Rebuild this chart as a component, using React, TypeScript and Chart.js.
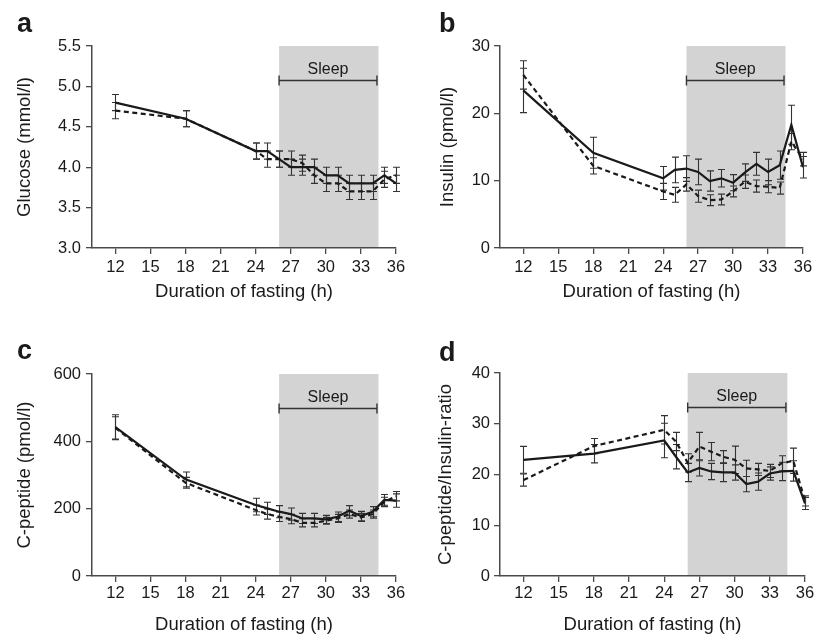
import React, { useEffect, useRef } from 'react';
import { Chart, registerables } from 'chart.js';

Chart.register(...registerables);
Chart.defaults.font.family = "'Liberation Sans', Arial, Helvetica, sans-serif";

// ---------- data ----------
const hours = [12, 18, 24, 25, 26, 27, 28, 29, 30, 31, 32, 33, 34, 35, 36];
const xTickValues = [12, 15, 18, 21, 24, 27, 30, 33, 36];
const sleepWindow = [26, 34.5];
const xTitle = 'Duration of fasting (h)';
const sleepLabel = 'Sleep';

const glucoseSolid = [4.8, 4.6, 4.2, 4.2, 4.1, 4.0, 4.0, 4.0, 3.9, 3.9, 3.8, 3.8, 3.8, 3.9, 3.8];
const glucoseSolidErr = [0.1, 0.1, 0.1, 0.1, 0.1, 0.1, 0.1, 0.1, 0.1, 0.1, 0.1, 0.1, 0.1, 0.1, 0.1];
const glucoseDashed = [4.7, 4.6, 4.2, 4.1, 4.1, 4.1, 4.05, 3.9, 3.8, 3.8, 3.7, 3.7, 3.7, 3.85, 3.9];
const glucoseDashedErr = [0.1, 0.1, 0.1, 0.1, 0.1, 0.1, 0.1, 0.1, 0.1, 0.1, 0.1, 0.1, 0.1, 0.1, 0.1];
const glucoseTicks = [3.0, 3.5, 4.0, 4.5, 5.0, 5.5];

const insulinSolid = [23.4, 14.15, 10.35, 11.6, 11.8, 11.3, 9.95, 10.35, 9.7, 11.2, 12.5, 11.3, 12.3, 18.3, 12.0];
const insulinSolidErr = [3.3, 2.3, 1.75, 1.9, 1.9, 1.9, 1.5, 1.3, 1.2, 1.3, 1.7, 1.9, 2.1, 2.9, 1.6];
const insulinDashed = [25.7, 12.2, 8.4, 7.9, 9.45, 7.7, 7.1, 7.2, 8.4, 9.85, 9.2, 9.1, 8.9, 15.8, 13.2];
const insulinDashedErr = [2.1, 1.2, 1.2, 1.1, 1.0, 0.9, 0.8, 0.8, 0.8, 1.0, 0.9, 0.9, 0.9, 1.2, 1.0];
const insulinTicks = [0, 10, 20, 30];

const cpepSolid = [442, 287, 211, 201, 191, 184, 171, 171, 168, 176, 194, 178, 191, 226, 224];
const cpepSolidErr = [37, 22, 20, 18, 18, 18, 15, 15, 12, 14, 15, 14, 15, 16, 20];
const cpepDashed = [440, 277, 196, 184, 176, 169, 158, 158, 164, 171, 184, 174, 184, 220, 237];
const cpepDashedErr = [33, 16, 15, 15, 14, 14, 12, 12, 10, 12, 12, 12, 12, 14, 14];
const cpepTicks = [0, 200, 400, 600];

const ratioSolid = [22.9, 24.1, 26.7, 23.5, 20.4, 21.3, 20.6, 20.4, 20.4, 18.1, 18.6, 20.2, 20.6, 20.7, 14.3];
const ratioSolidErr = [2.65, 1.8, 3.4, 2.4, 1.8, 1.6, 1.6, 1.8, 1.5, 1.5, 1.7, 1.3, 1.8, 2.0, 1.2];
const ratioDashed = [18.9, 25.6, 28.8, 26.5, 22.3, 25.5, 24.5, 23.5, 22.9, 21.2, 21.0, 20.7, 22.2, 22.7, 14.8];
const ratioDashedErr = [1.2, 1.5, 2.8, 1.8, 1.8, 2.8, 1.8, 1.2, 2.7, 1.6, 1.2, 1.3, 1.5, 2.5, 1.0];
const ratioTicks = [0, 10, 20, 30, 40];

// ---------- panels ----------
type Panel = {
  letter: string; yTitle: string; yTicks: number[]; decimals: number;
  solid: number[]; solidErr: number[]; dashed: number[]; dashedErr: number[];
  left: number; top: number; padTop: number; padRight: number; yW: number; xH: number;
  yTitlePad: number; xTitlePad: number; yTickPad: number; xTickPad: number;
  letterX: number; letterY: number;
};

const panels: Panel[] = [
  { letter: 'a', yTitle: 'Glucose (mmol/l)', yTicks: glucoseTicks, decimals: 1,
    solid: glucoseSolid, solidErr: glucoseSolidErr, dashed: glucoseDashed, dashedErr: glucoseDashedErr,
    left: 0, top: 0, padTop: 46, padRight: 16, yW: 92, xH: 69, yTitlePad: 15.5, xTitlePad: 16,
    yTickPad: 5, xTickPad: 4, letterX: 17, letterY: 32 },
  { letter: 'b', yTitle: 'Insulin (pmol/l)', yTicks: insulinTicks, decimals: 0,
    solid: insulinSolid, solidErr: insulinSolidErr, dashed: insulinDashed, dashedErr: insulinDashedErr,
    left: 412, top: 0, padTop: 46, padRight: 21, yW: 88, xH: 69, yTitlePad: 26.5, xTitlePad: 16,
    yTickPad: 4, xTickPad: 4, letterX: 27, letterY: 32 },
  { letter: 'c', yTitle: 'C-peptide (pmol/l)', yTicks: cpepTicks, decimals: 0,
    solid: cpepSolid, solidErr: cpepSolidErr, dashed: cpepDashed, dashedErr: cpepDashedErr,
    left: 0, top: 317, padTop: 57, padRight: 16, yW: 92, xH: 58, yTitlePad: 15.5, xTitlePad: 0,
    yTickPad: 5, xTickPad: 2, letterX: 17, letterY: 42 },
  { letter: 'd', yTitle: 'C-peptide/Insulin-ratio', yTicks: ratioTicks, decimals: 0,
    solid: ratioSolid, solidErr: ratioSolidErr, dashed: ratioDashed, dashedErr: ratioDashedErr,
    left: 412, top: 317, padTop: 56, padRight: 19, yW: 88, xH: 58, yTitlePad: 24.5, xTitlePad: 0,
    yTickPad: 4, xTickPad: 2, letterX: 27, letterY: 44 },
];

const INK = '#1a1a1a';
const AXIS = '#4a4a4a';

const decorPlugin = {
  id: 'decor',
  beforeDraw(chart: any) {
    const { ctx, chartArea, scales } = chart;
    const x1 = scales.x.getPixelForValue(sleepWindow[0]);
    const x2 = scales.x.getPixelForValue(sleepWindow[1]);
    ctx.save();
    ctx.fillStyle = '#d3d3d3';
    ctx.fillRect(x1, chartArea.top, x2 - x1, chartArea.bottom - chartArea.top);
    ctx.restore();
  },
  beforeDatasetsDraw(chart: any) {
    const { ctx, scales } = chart;
    ctx.save();
    ctx.strokeStyle = '#333';
    ctx.lineWidth = 1.1;
    chart.data.datasets.forEach((ds: any, i: number) => {
      const meta = chart.getDatasetMeta(i);
      meta.data.forEach((pt: any, j: number) => {
        const v = ds.data[j].y;
        const e = ds.errors[j];
        const x = Math.round(pt.x) + 0.5;
        const yTop = scales.y.getPixelForValue(v + e);
        const yBot = scales.y.getPixelForValue(v - e);
        ctx.beginPath();
        ctx.moveTo(x, yTop); ctx.lineTo(x, yBot);
        ctx.moveTo(x - 3.5, yTop); ctx.lineTo(x + 3.5, yTop);
        ctx.moveTo(x - 3.5, yBot); ctx.lineTo(x + 3.5, yBot);
        ctx.stroke();
      });
    });
    ctx.restore();
  },
  afterDraw(chart: any, _a: any, opts: any) {
    const { ctx, chartArea, scales } = chart;
    const x1 = scales.x.getPixelForValue(sleepWindow[0]);
    const x2 = scales.x.getPixelForValue(sleepWindow[1]) - 1.5;
    const yb = Math.round(chartArea.top + 34) + 0.5;
    ctx.save();
    ctx.strokeStyle = '#333';
    ctx.lineWidth = 1.4;
    ctx.beginPath();
    ctx.moveTo(x1, yb); ctx.lineTo(x2, yb);
    ctx.moveTo(x1, yb - 5); ctx.lineTo(x1, yb + 5);
    ctx.moveTo(x2, yb - 5); ctx.lineTo(x2, yb + 5);
    ctx.stroke();
    ctx.fillStyle = INK;
    ctx.font = "16px 'Liberation Sans', Arial, sans-serif";
    ctx.textAlign = 'center';
    ctx.textBaseline = 'alphabetic';
    ctx.fillText(sleepLabel, (x1 + x2) / 2, yb - 7);
    ctx.font = "bold 27px 'Liberation Sans', Arial, sans-serif";
    ctx.textAlign = 'left';
    ctx.fillText(opts.letter, opts.letterX, opts.letterY);
    ctx.restore();
  },
};

function PanelChart({ p }: { p: Panel }) {
  const ref = useRef<HTMLCanvasElement | null>(null);
  useEffect(() => {
    if (!ref.current) return;
    const toPts = (vals: number[]) => hours.map((h, i) => ({ x: h, y: vals[i] }));
    const yMin = p.yTicks[0];
    const yMax = p.yTicks[p.yTicks.length - 1];
    const chart = new Chart(ref.current, {
      type: 'line',
      data: {
        datasets: [
          { data: toPts(p.dashed), errors: p.dashedErr, borderColor: INK, borderWidth: 2.2, borderDash: [5, 3.5],
            pointRadius: 0, fill: false, tension: 0 } as any,
          { data: toPts(p.solid), errors: p.solidErr, borderColor: INK, borderWidth: 2.2,
            pointRadius: 0, fill: false, tension: 0 } as any,
        ],
      },
      options: {
        animation: false,
        responsive: false,
        maintainAspectRatio: false,
        events: [],
        layout: { padding: { top: p.padTop, right: p.padRight, left: 0, bottom: 0 } },
        plugins: {
          legend: { display: false },
          tooltip: { enabled: false },
          decor: { letter: p.letter, letterX: p.letterX, letterY: p.letterY },
        } as any,
        scales: {
          x: {
            type: 'linear', min: 10, max: 36,
            afterBuildTicks: (s: any) => { s.ticks = xTickValues.map((v) => ({ value: v })); },
            afterFit: (s: any) => { s.height = p.xH; },
            grid: { drawOnChartArea: false, tickLength: 6, color: AXIS, lineWidth: 1.3 },
            border: { color: AXIS, width: 1.5 },
            ticks: { font: { size: 16.5, lineHeight: 1.2 }, color: INK, padding: p.xTickPad, maxRotation: 0, autoSkip: false,
              callback: (v: any) => String(v) },
            title: { display: true, text: xTitle, color: INK, font: { size: 18.5, lineHeight: 1 }, padding: { top: 0, bottom: p.xTitlePad } },
          },
          y: {
            type: 'linear', min: yMin, max: yMax,
            afterBuildTicks: (s: any) => { s.ticks = p.yTicks.map((v) => ({ value: v })); },
            afterFit: (s: any) => { s.width = p.yW; },
            grid: { drawOnChartArea: false, tickLength: 6, color: AXIS, lineWidth: 1.3 },
            border: { color: AXIS, width: 1.5 },
            ticks: { font: { size: 16.5, lineHeight: 1.2 }, color: INK, padding: p.yTickPad, autoSkip: false,
              callback: (v: any) => Number(v).toFixed(p.decimals) },
            title: { display: true, text: p.yTitle, color: INK, font: { size: 18.5, lineHeight: 1 }, padding: { top: p.yTitlePad, bottom: 0 } },
          },
        },
      } as any,
      plugins: [decorPlugin as any],
    });
    return () => chart.destroy();
  }, [p]);
  return (
    <canvas ref={ref} width={412} height={317}
      style={{ position: 'absolute', left: p.left, top: p.top, width: 412, height: 317 }} />
  );
}

export default function App() {
  return (
    <div style={{ position: 'absolute', left: 0, top: 0, width: 824, height: 634, background: '#fff', overflow: 'hidden' }}>
      {panels.map((p) => <PanelChart key={p.letter} p={p} />)}
    </div>
  );
}
